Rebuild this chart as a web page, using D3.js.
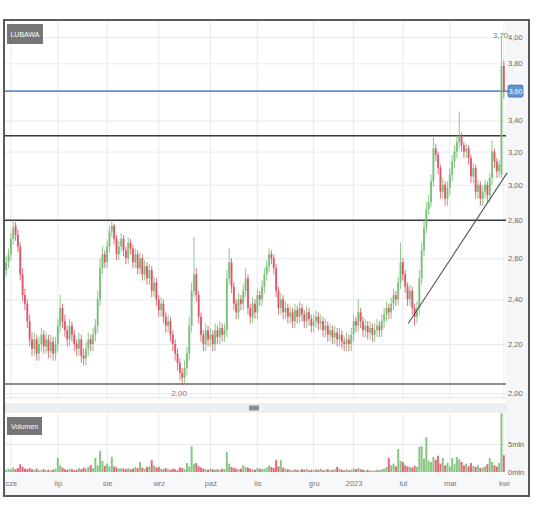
<!DOCTYPE html>
<html><head><meta charset="utf-8">
<script src="https://cdnjs.cloudflare.com/ajax/libs/d3/7.8.5/d3.min.js"></script>
<style>body{margin:0;background:#fff}svg{display:block}text{font-family:"Liberation Sans Narrow","Liberation Sans",Arial,sans-serif}</style>
</head><body><svg id="c" width="536" height="512"></svg>
<script>
const ticker = "LUBAWA";
const volumeTitle = "Volumen";
const monthLabels = ["cze","lip","sie","wrz","paź","lis","gru","2023","lut","mar","kwi"];
const monthIdx = [2,22,43,65,87,107,131,148,169,189,212];
const priceTicks = [2.0,2.2,2.4,2.6,2.8,3.0,3.2,3.4,3.6,3.8,4.0];
const volTicks = [0,5];
const volTickLabels = ["0mln","5mln"];
const maxLabel = "3,70";
const minLabel = "2,00";
const lastLabel = "3,60";
const levelBlue = 3.60;
const levelsBlack = [3.30, 2.80];
const levelGray = 2.035;
const trendLine = [[171.3, 2.29],[213.4, 3.07]];

const opens = [2.54,2.58,2.62,2.70,2.77,2.72,2.66,2.52,2.42,2.38,2.30,2.22,2.18,2.22,2.16,2.20,2.24,2.19,2.22,2.17,
2.21,2.16,2.20,2.28,2.36,2.30,2.26,2.22,2.28,2.24,2.20,2.18,2.22,2.15,2.14,2.18,2.22,2.20,2.24,2.28,
2.40,2.55,2.62,2.58,2.66,2.74,2.77,2.70,2.62,2.66,2.70,2.64,2.60,2.68,2.65,2.58,2.62,2.55,2.60,2.52,
2.56,2.50,2.54,2.44,2.48,2.40,2.35,2.38,2.32,2.28,2.30,2.24,2.20,2.16,2.12,2.08,2.06,2.10,2.16,2.28,
2.44,2.52,2.42,2.32,2.24,2.20,2.26,2.22,2.24,2.20,2.26,2.23,2.27,2.24,2.26,2.50,2.58,2.46,2.38,2.34,
2.40,2.38,2.44,2.50,2.36,2.32,2.38,2.34,2.42,2.40,2.46,2.52,2.56,2.62,2.60,2.55,2.44,2.36,2.40,2.34,
2.36,2.32,2.34,2.30,2.35,2.32,2.36,2.33,2.30,2.34,2.31,2.28,2.30,2.32,2.29,2.30,2.26,2.28,2.24,2.26,
2.23,2.25,2.22,2.24,2.21,2.20,2.22,2.20,2.24,2.30,2.28,2.34,2.30,2.26,2.28,2.25,2.27,2.24,2.26,2.28,
2.26,2.30,2.33,2.36,2.34,2.38,2.42,2.40,2.48,2.58,2.52,2.46,2.40,2.44,2.36,2.32,2.36,2.50,2.64,2.76,
2.86,2.90,3.02,3.22,3.18,3.10,2.96,3.00,2.92,2.98,3.06,3.14,3.20,3.26,3.30,3.24,3.20,3.22,3.16,3.05,
3.10,2.96,3.00,2.92,2.96,3.00,2.94,3.04,3.20,3.14,3.08,3.06,3.78];
const highs = [2.61,2.65,2.73,2.80,2.79,2.75,2.68,2.55,2.45,2.40,2.33,2.25,2.25,2.24,2.23,2.27,2.26,2.25,2.24,2.24,
2.23,2.23,2.31,2.42,2.38,2.33,2.28,2.31,2.30,2.26,2.22,2.25,2.24,2.18,2.21,2.25,2.24,2.27,2.31,2.44,
2.60,2.66,2.64,2.69,2.77,2.80,2.78,2.72,2.69,2.73,2.72,2.66,2.71,2.70,2.67,2.65,2.64,2.63,2.62,2.59,
2.58,2.57,2.56,2.51,2.50,2.42,2.41,2.40,2.34,2.33,2.32,2.26,2.22,2.18,2.14,2.10,2.13,2.19,2.32,2.48,
2.71,2.55,2.44,2.34,2.26,2.29,2.28,2.27,2.26,2.29,2.28,2.30,2.29,2.29,2.54,2.65,2.60,2.48,2.40,2.43,
2.42,2.47,2.55,2.52,2.38,2.41,2.40,2.45,2.44,2.49,2.55,2.59,2.65,2.64,2.62,2.57,2.46,2.43,2.42,2.39,
2.38,2.37,2.36,2.38,2.37,2.39,2.38,2.35,2.37,2.36,2.33,2.33,2.35,2.34,2.33,2.32,2.31,2.30,2.29,2.28,
2.28,2.27,2.27,2.26,2.23,2.25,2.24,2.27,2.33,2.32,2.40,2.36,2.32,2.31,2.30,2.30,2.29,2.29,2.31,2.30,
2.33,2.36,2.39,2.38,2.41,2.45,2.44,2.51,2.68,2.60,2.54,2.48,2.47,2.46,2.38,2.39,2.54,2.68,2.80,2.90,
2.94,3.06,3.29,3.25,3.20,3.12,3.04,3.02,3.02,3.10,3.18,3.24,3.30,3.46,3.32,3.26,3.25,3.24,3.18,3.13,
3.12,3.03,3.02,2.99,3.03,3.02,3.07,3.27,3.22,3.16,3.15,4.00,3.82];
const lows = [2.51,2.55,2.59,2.67,2.69,2.63,2.49,2.39,2.35,2.27,2.19,2.15,2.15,2.13,2.13,2.17,2.16,2.16,2.14,2.14,
2.13,2.13,2.17,2.25,2.27,2.23,2.19,2.19,2.21,2.17,2.15,2.15,2.12,2.11,2.11,2.15,2.17,2.17,2.21,2.25,
2.37,2.52,2.55,2.55,2.63,2.71,2.67,2.59,2.59,2.63,2.61,2.57,2.57,2.62,2.55,2.55,2.52,2.52,2.49,2.49,
2.47,2.47,2.41,2.41,2.37,2.32,2.32,2.29,2.25,2.25,2.21,2.17,2.13,2.09,2.05,2.03,2.04,2.07,2.13,2.25,
2.41,2.39,2.29,2.21,2.17,2.17,2.19,2.19,2.17,2.17,2.20,2.20,2.21,2.21,2.23,2.47,2.43,2.35,2.31,2.31,
2.35,2.35,2.41,2.33,2.29,2.29,2.31,2.31,2.37,2.37,2.43,2.49,2.53,2.57,2.52,2.41,2.33,2.33,2.31,2.31,
2.29,2.29,2.27,2.27,2.29,2.29,2.30,2.27,2.27,2.28,2.25,2.25,2.27,2.26,2.26,2.23,2.23,2.21,2.21,2.20,
2.20,2.19,2.19,2.18,2.17,2.17,2.17,2.17,2.21,2.25,2.25,2.27,2.23,2.23,2.22,2.22,2.21,2.21,2.23,2.23,
2.23,2.27,2.30,2.31,2.31,2.35,2.37,2.37,2.45,2.49,2.43,2.37,2.37,2.33,2.28,2.29,2.33,2.47,2.61,2.73,
2.83,2.87,2.99,3.14,3.06,2.92,2.92,2.88,2.88,2.94,3.02,3.10,3.16,3.22,3.20,3.16,3.16,3.12,3.01,3.01,
2.92,2.92,2.88,2.88,2.92,2.90,2.90,3.00,3.10,3.04,3.04,3.04,3.55];
const closes = [2.58,2.62,2.70,2.76,2.72,2.66,2.52,2.42,2.38,2.30,2.22,2.18,2.22,2.16,2.20,2.24,2.19,2.22,2.17,2.21,
2.16,2.20,2.28,2.36,2.30,2.26,2.22,2.28,2.24,2.20,2.18,2.22,2.15,2.14,2.18,2.22,2.20,2.24,2.28,2.40,
2.55,2.62,2.58,2.66,2.74,2.77,2.70,2.62,2.66,2.70,2.64,2.60,2.68,2.65,2.58,2.62,2.55,2.60,2.52,2.56,
2.50,2.54,2.44,2.48,2.40,2.35,2.38,2.32,2.28,2.30,2.24,2.20,2.16,2.12,2.08,2.06,2.10,2.16,2.28,2.44,
2.52,2.42,2.32,2.24,2.20,2.26,2.22,2.24,2.20,2.26,2.23,2.27,2.24,2.26,2.50,2.58,2.46,2.38,2.34,2.40,
2.38,2.44,2.50,2.36,2.32,2.38,2.34,2.42,2.40,2.46,2.52,2.56,2.62,2.60,2.55,2.44,2.36,2.40,2.34,2.36,
2.32,2.34,2.30,2.35,2.32,2.36,2.33,2.30,2.34,2.31,2.28,2.30,2.32,2.29,2.30,2.26,2.28,2.24,2.26,2.23,
2.25,2.22,2.24,2.21,2.20,2.22,2.20,2.24,2.30,2.28,2.34,2.30,2.26,2.28,2.25,2.27,2.24,2.26,2.28,2.26,
2.30,2.33,2.36,2.34,2.38,2.42,2.40,2.48,2.58,2.52,2.46,2.40,2.44,2.36,2.32,2.36,2.50,2.64,2.76,2.86,
2.90,3.02,3.22,3.18,3.10,2.96,3.00,2.92,2.98,3.06,3.14,3.20,3.26,3.30,3.24,3.20,3.22,3.16,3.05,3.10,
2.96,3.00,2.92,2.96,3.00,2.94,3.04,3.20,3.14,3.08,3.12,3.78,3.60];
const volumes = [0.4,0.6,0.5,0.8,0.5,0.7,1.4,0.9,0.6,0.5,
0.7,0.5,0.4,0.6,0.3,0.4,0.5,0.3,0.4,0.3,
0.4,0.6,2.5,1.2,0.8,0.5,0.4,0.6,0.5,0.3,
0.4,0.7,0.5,0.8,0.6,0.9,1.25,0.7,2.5,1.2,
3.75,2.0,1.1,1.5,1.0,2.7,1.0,0.8,0.6,0.7,
0.6,0.5,0.7,0.5,0.6,0.9,0.7,1.8,0.8,0.6,
0.9,1.0,2.1,1.2,0.8,0.9,0.6,0.5,0.7,0.5,
0.4,0.6,0.5,0.3,0.8,0.7,0.5,1.6,1.0,4.6,
1.4,1.6,1.0,0.8,0.6,0.5,0.4,0.6,0.5,0.4,
0.5,0.4,0.6,0.5,3.6,1.5,0.9,0.7,0.6,0.5,
0.6,1.2,0.9,0.8,0.6,0.5,0.4,0.7,0.6,0.5,
0.6,0.8,1.2,0.9,0.7,2.1,1.0,2.1,0.8,0.6,
0.5,0.4,0.3,0.5,0.4,0.3,0.5,0.4,0.6,0.3,
0.4,0.3,0.5,0.4,0.6,0.3,0.4,0.5,0.3,0.4,
0.5,0.9,0.6,0.4,0.3,0.5,0.3,0.4,0.6,0.5,
0.7,0.5,0.4,0.3,0.4,0.3,0.2,0.3,0.4,0.3,
0.5,0.6,0.9,2.5,1.2,1.5,1.0,4.1,2.0,1.8,
1.2,1.0,0.9,0.8,1.1,0.9,4.5,4.6,2.4,6.2,
2.0,1.8,2.7,2.2,2.9,1.5,2.5,1.2,1.6,1.0,
2.5,1.4,2.7,2.3,1.8,1.2,1.5,1.0,1.6,1.1,
0.9,1.2,0.7,0.8,1.0,1.4,2.5,1.8,1.2,1.0,
1.6,10.5,3.0];

const N = closes.length;
const candles = closes.map((c,i)=>({i, o:opens[i], h:highs[i], l:lows[i], c, v:volumes[i]}));
const GREEN = "#72bd6e", RED = "#dc4d64", GRID = "#e7e9ec";
const svg = d3.select("#c");
const fmt = v => v.toFixed(2).replace(".", ",");

const x = d3.scaleLinear().domain([-0.5, N - 0.5]).range([5, 505]);
const y = d3.scaleLog().domain([2, 4]).range([393, 37]);
const yV = d3.scaleLinear().domain([0, 5]).range([472, 444]);
const step = x(1) - x(0);

// backgrounds
svg.append("rect").attr("x",506).attr("y",21).attr("width",22).attr("height",451).attr("fill","#f5f6f8");
svg.append("rect").attr("x",5).attr("y",472).attr("width",523).attr("height",23).attr("fill","#f7f8fa");
svg.append("rect").attr("x",5).attr("y",404).attr("width",501).attr("height",8).attr("fill","#eef1f4").attr("stroke","#dde1e6").attr("stroke-width",0.8);
svg.append("rect").attr("x",249).attr("y",405.5).attr("width",10).attr("height",5).attr("fill","#8a8f96");

// vertical grid
const gx = svg.append("g");
monthIdx.forEach(m => {
  gx.append("line").attr("x1",x(m)).attr("x2",x(m)).attr("y1",21).attr("y2",398).attr("stroke",GRID);
  gx.append("line").attr("x1",x(m)).attr("x2",x(m)).attr("y1",413).attr("y2",472).attr("stroke",GRID);
});
// horizontal grid
svg.append("g").attr("transform","translate(5,0)")
  .call(d3.axisRight(y).tickValues(priceTicks).tickSize(501).tickFormat(""))
  .call(g=>g.select(".domain").remove())
  .call(g=>g.selectAll("line").attr("stroke",GRID));
svg.append("g").attr("transform","translate(5,0)")
  .call(d3.axisRight(yV).tickValues([5]).tickSize(501).tickFormat(""))
  .call(g=>g.select(".domain").remove())
  .call(g=>g.selectAll("line").attr("stroke",GRID));
svg.append("line").attr("x1",5).attr("x2",506).attr("y1",398).attr("y2",398).attr("stroke","#e3e6ea");

// level lines
svg.append("line").attr("x1",5).attr("x2",508).attr("y1",y(levelBlue)).attr("y2",y(levelBlue)).attr("stroke","#5f93cf").attr("stroke-width",1.6);
levelsBlack.forEach(l => svg.append("line").attr("x1",5).attr("x2",506).attr("y1",y(l)).attr("y2",y(l)).attr("stroke","#3a3a3a").attr("stroke-width",1.5));
svg.append("line").attr("x1",5).attr("x2",506).attr("y1",y(levelGray)).attr("y2",y(levelGray)).attr("stroke","#8c8c8c").attr("stroke-width",2);

// candles
const cg = svg.append("g");
const col = d => d.c >= d.o ? GREEN : RED;
cg.selectAll("line.w").data(candles).join("line")
  .attr("x1",d=>x(d.i)).attr("x2",d=>x(d.i)).attr("y1",d=>y(d.h)).attr("y2",d=>y(d.l))
  .attr("stroke",col).attr("stroke-width",1).attr("opacity",0.8);
cg.selectAll("rect").data(candles).join("rect")
  .attr("x",d=>x(d.i)-step*0.42).attr("width",step*0.84)
  .attr("y",d=>y(Math.max(d.o,d.c)))
  .attr("height",d=>Math.max(1, Math.abs(y(d.o)-y(d.c))))
  .attr("fill",col).attr("opacity",0.85);

// trend line
svg.append("line").attr("x1",x(trendLine[0][0])).attr("y1",y(trendLine[0][1]))
  .attr("x2",x(trendLine[1][0])).attr("y2",y(trendLine[1][1])).attr("stroke","#555").attr("stroke-width",1.1);

// volume bars
svg.append("g").selectAll("rect").data(candles).join("rect")
  .attr("x",d=>x(d.i)-step*0.42).attr("width",step*0.84)
  .attr("y",d=>yV(d.v)).attr("height",d=>yV(0)-yV(d.v))
  .attr("fill",col).attr("opacity",0.85);

// price axis
svg.append("g").attr("transform","translate(508,0)")
  .call(d3.axisRight(y).tickValues(priceTicks).tickSize(0).tickPadding(0).tickFormat(fmt))
  .call(g=>g.select(".domain").remove())
  .call(g=>g.selectAll("text").attr("fill","#666").attr("font-size",7.5).attr("font-family","Liberation Sans Narrow, Arial, sans-serif"));
// volume axis
svg.append("g").attr("transform","translate(508,0)")
  .call(d3.axisRight(yV).tickValues(volTicks).tickSize(0).tickPadding(0).tickFormat((d,i)=>volTickLabels[i]))
  .call(g=>g.select(".domain").remove())
  .call(g=>g.selectAll("text").attr("fill","#666").attr("font-size",7.5).attr("font-family","Liberation Sans Narrow, Arial, sans-serif"));
// x axis
svg.append("g").attr("transform","translate(0,481)")
  .call(d3.axisBottom(x).tickValues(monthIdx).tickSize(0).tickPadding(0).tickFormat((d,i)=>monthLabels[i]))
  .call(g=>g.select(".domain").remove())
  .call(g=>g.selectAll("text").attr("fill","#777").attr("font-size",7.5).attr("font-family","Liberation Sans Narrow, Arial, sans-serif"));

// last price tag
svg.append("rect").attr("x",508).attr("y",y(levelBlue)-6).attr("width",15).attr("height",12).attr("rx",1.5)
  .attr("fill","#5f93cf").attr("stroke","#3f74b5").attr("stroke-width",0.8);
svg.append("text").attr("x",515.5).attr("y",y(levelBlue)+2.5).attr("text-anchor","middle")
  .attr("font-size",7).attr("fill","#fff").text(lastLabel);

// max / min markers
const maxC = candles.reduce((a,b)=>b.h>a.h?b:a);
const minC = candles.reduce((a,b)=>b.l<a.l?b:a);
svg.append("text").attr("x",x(maxC.i)-1).attr("y",y(maxC.h)+0.5).attr("text-anchor","middle")
  .attr("font-size",8).attr("fill","#3fa04a").text(maxLabel);
svg.append("text").attr("x",x(minC.i)-3).attr("y",y(minC.l)+11).attr("text-anchor","middle")
  .attr("font-size",8).attr("fill","#e04a66").text(minLabel);

// title boxes
svg.append("rect").attr("x",7).attr("y",24).attr("width",36).attr("height",20).attr("fill","#767676");
svg.append("text").attr("x",25).attr("y",37).attr("text-anchor","middle").attr("font-size",7).attr("fill","#fff").text(ticker);
svg.append("rect").attr("x",7).attr("y",417).attr("width",35).attr("height",18).attr("fill","#767676");
svg.append("text").attr("x",24.5).attr("y",429).attr("text-anchor","middle").attr("font-size",7).attr("fill","#fff").text(volumeTitle);

// frame
svg.append("rect").attr("x",4).attr("y",20).attr("width",525).attr("height",476)
  .attr("fill","none").attr("stroke","#5a5a5a").attr("stroke-width",2);
</script></body></html>
